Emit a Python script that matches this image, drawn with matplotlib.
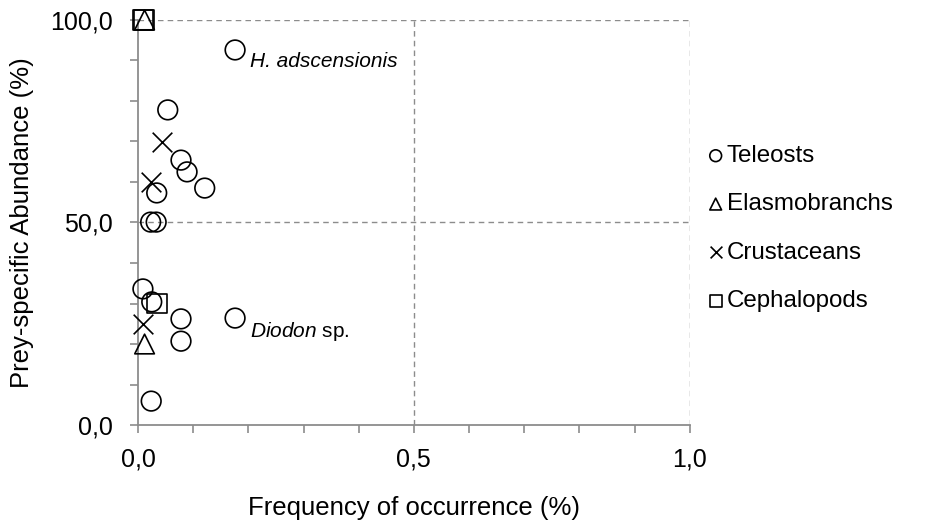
import matplotlib.pyplot as plt
from matplotlib.ticker import MultipleLocator, FuncFormatter

plt.rcParams['font.family'] = ['Liberation Sans', 'DejaVu Sans']
plt.rcParams['mathtext.fontset'] = 'custom'
plt.rcParams['mathtext.it'] = 'Liberation Sans:italic'
plt.rcParams['mathtext.rm'] = 'Liberation Sans'

# frequency of occurrence / prey-specific abundance for each prey item
teleost_fo = [0.176, 0.054, 0.078, 0.089, 0.121, 0.034, 0.023, 0.033, 0.009, 0.025, 0.078, 0.078, 0.176, 0.024]
teleost_pa = [92.6, 77.8, 65.4, 62.5, 58.5, 57.3, 50.1, 50.1, 33.6, 30.4, 26.2, 20.7, 26.4, 5.9]
elasmo_fo = [0.012, 0.012]
elasmo_pa = [100.0, 20.0]
crust_fo = [0.043, 0.024, 0.009]
crust_pa = [69.9, 60.0, 25.0]
cephalo_fo = [0.011, 0.009, 0.034]
cephalo_pa = [100.0, 100.0, 30.0]

groups = ['Teleosts', 'Elasmobranchs', 'Crustaceans', 'Cephalopods']

fig = plt.figure(figsize=(9.29, 5.26), dpi=100)
ax = fig.add_axes([0.1485, 0.192, 0.594, 0.770])

kw = dict(s=200, facecolors='none', edgecolors='black', linewidths=1.2, clip_on=False, zorder=3)
ax.scatter(teleost_fo, teleost_pa, marker='o', label=groups[0], **kw)
ax.scatter(elasmo_fo, elasmo_pa, marker='^', label=groups[1], **kw)
ax.scatter(crust_fo, crust_pa, marker='x', s=200, c='black', linewidths=1.2,
           clip_on=False, zorder=3, label=groups[2])
ax.scatter(cephalo_fo, cephalo_pa, marker='s', label=groups[3], **kw)

# species names next to the two outlying teleosts
ax.text(0.203, 88.4, 'H. adscensionis', fontsize=15, style='italic', va='baseline')
ax.text(0.203, 21.7, r'$\mathit{Diodon}$ sp.', fontsize=15, va='baseline')

ax.set_xlim(0, 1.0)
ax.set_ylim(0, 100)
ax.xaxis.set_major_locator(MultipleLocator(0.5))
ax.xaxis.set_minor_locator(MultipleLocator(0.1))
ax.yaxis.set_major_locator(MultipleLocator(50))
ax.yaxis.set_minor_locator(MultipleLocator(10))
comma = FuncFormatter(lambda v, p: f'{v:.1f}'.replace('.', ','))
ax.xaxis.set_major_formatter(comma)
ax.yaxis.set_major_formatter(comma)

gray = '#8c8c8c'
for side in ['top', 'right']:
    ax.spines[side].set_visible(False)
for side in ['left', 'bottom']:
    ax.spines[side].set_color(gray)
    ax.spines[side].set_linewidth(1.3)
ax.tick_params(which='both', direction='out', color=gray, width=1.2, labelsize=18)
ax.tick_params(which='major', length=6)
ax.tick_params(which='minor', length=6)
ax.tick_params(axis='y', which='major', pad=12)
ax.tick_params(axis='x', which='major', pad=10)

for v in [50, 100]:
    ax.axhline(v, color=gray, lw=1, ls=(0, (4, 3)), zorder=1)
for v in [0.5, 1.0]:
    ax.axvline(v, color=gray, lw=1, ls=(0, (4, 3)), zorder=1)

ax.set_xlabel('Frequency of occurrence (%)', fontsize=18.5, labelpad=18)
ax.set_ylabel('Prey-specific Abundance (%)', fontsize=18.5, labelpad=12)

ax.legend(loc='center left', bbox_to_anchor=(0.99, 0.485), frameon=False, fontsize=17.4,
          markerscale=0.6, handletextpad=0.05, labelspacing=1.09, handlelength=0.8)

fig.savefig('out.png', dpi=100)
